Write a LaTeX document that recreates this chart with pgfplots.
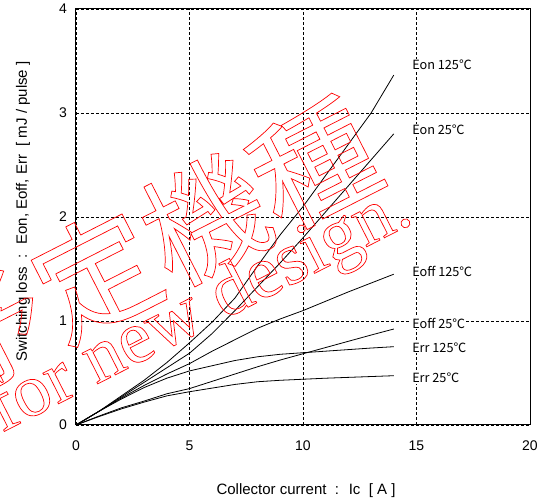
\documentclass[border=0pt]{standalone}
\usepackage{fontspec}
\setmainfont{Liberation Sans}
\newfontfamily\cjk{Noto Sans CJK JP}
\newfontfamily\wmserif{Liberation Serif}
\usepackage{pgfplots}
\pgfplotsset{compat=1.18}

\pgfplotstableread{
x   eonh  eonl  eoffh  eoffl  errh   errl
0   0     0     0      0      0      0
1   0.13  0.13  0.13   0.085  0.13   0.08
2   0.28  0.27  0.26   0.165  0.25   0.155
3   0.43  0.41  0.38   0.23   0.36   0.22
4   0.60  0.55  0.49   0.30   0.45   0.28
5   0.79  0.69  0.59   0.35   0.52   0.32
6   0.99  0.88  0.71   0.42   0.57   0.355
7   1.22  1.10  0.82   0.49   0.62   0.39
8   1.53  1.33  0.93   0.56   0.656  0.416
9   1.83  1.56  1.02   0.625  0.68   0.43
10  2.10  1.80  1.10   0.685  0.695  0.44
11  2.40  2.05  1.19   0.745  0.71   0.45
12  2.70  2.30  1.28   0.805  0.725  0.458
13  3.00  2.55  1.365  0.865  0.74   0.466
14  3.365 2.80  1.45   0.923  0.753  0.474
}\datatable

\begin{document}
\begin{tikzpicture}[x=1pt,y=1pt]
\useasboundingbox (0,0) rectangle (547,501);
\begin{axis}[
  at={(76pt,76pt)}, anchor=south west,
  scale only axis, width=454pt, height=416pt,
  xmin=0, xmax=20, ymin=0, ymax=4,
  xtick={0,5,10,15,20}, ytick={0,1,2,3,4},
  grid=major,
  major grid style={black, line width=0.6pt, dash pattern=on 3pt off 2pt},
  major tick length=0pt,
  axis line style={black, line width=1pt},
  /pgf/number format/assume math mode=true,
  tick label style={font=\fontsize{14}{16}\selectfont},
  xticklabel style={yshift=-12pt},
  yticklabel style={xshift=-5.5pt},
  xlabel={Collector current \ : \ Ic \ [ A ]},
  ylabel={Switching loss \ : \ Eon, Eoff, Err \ [ mJ / pulse ]},
  label style={font=\fontsize{15}{18}\selectfont},
  xlabel style={at={(axis description cs:0.5066,-0.166)}, anchor=base},
  ylabel style={at={(axis description cs:-0.108,0.513)}, anchor=base},
  clip=false,
]
\addplot[black, line width=0.8pt, no marks] table[x=x,y=eonh] {\datatable};
\addplot[black, line width=0.8pt, no marks] table[x=x,y=eonl] {\datatable};
\addplot[black, line width=0.8pt, no marks] table[x=x,y=eoffh] {\datatable};
\addplot[black, line width=0.8pt, no marks] table[x=x,y=eoffl] {\datatable};
\addplot[black, line width=0.8pt, no marks] table[x=x,y=errh] {\datatable};
\addplot[black, line width=0.8pt, no marks] table[x=x,y=errl] {\datatable};
\tikzset{lab/.style={anchor=base west, fill=white, inner sep=1pt, font=\cjk\fontsize{12.7}{14}\selectfont}}
\node[lab] at (axis cs:14.76,3.42) {Eon 125℃};
\node[lab] at (axis cs:14.76,2.795) {Eon 25℃};
\node[lab] at (axis cs:14.76,1.426) {Eoff 125℃};
\node[lab] at (axis cs:14.76,0.93) {Eoff 25℃};
\node[lab] at (axis cs:14.76,0.699) {Err 125℃};
\node[lab] at (axis cs:14.76,0.407) {Err 25℃};
\end{axis}
\node[rotate=27, anchor=base west, inner sep=0pt, text=red] at (1.3,68)
  {\special{pdf:literal direct 1 Tr 0.7 w}\wmserif\fontsize{75}{75}\selectfont for new design.\special{pdf:literal direct 0 Tr}};
\node[rotate=27, anchor=center, inner sep=0pt, text=red] at (150.2,253.8)
  {\special{pdf:literal direct 1 Tr 0.7 w}\cjk\fontsize{122}{122}\selectfont 予定機種\special{pdf:literal direct 0 Tr}};
\end{tikzpicture}
\end{document}
